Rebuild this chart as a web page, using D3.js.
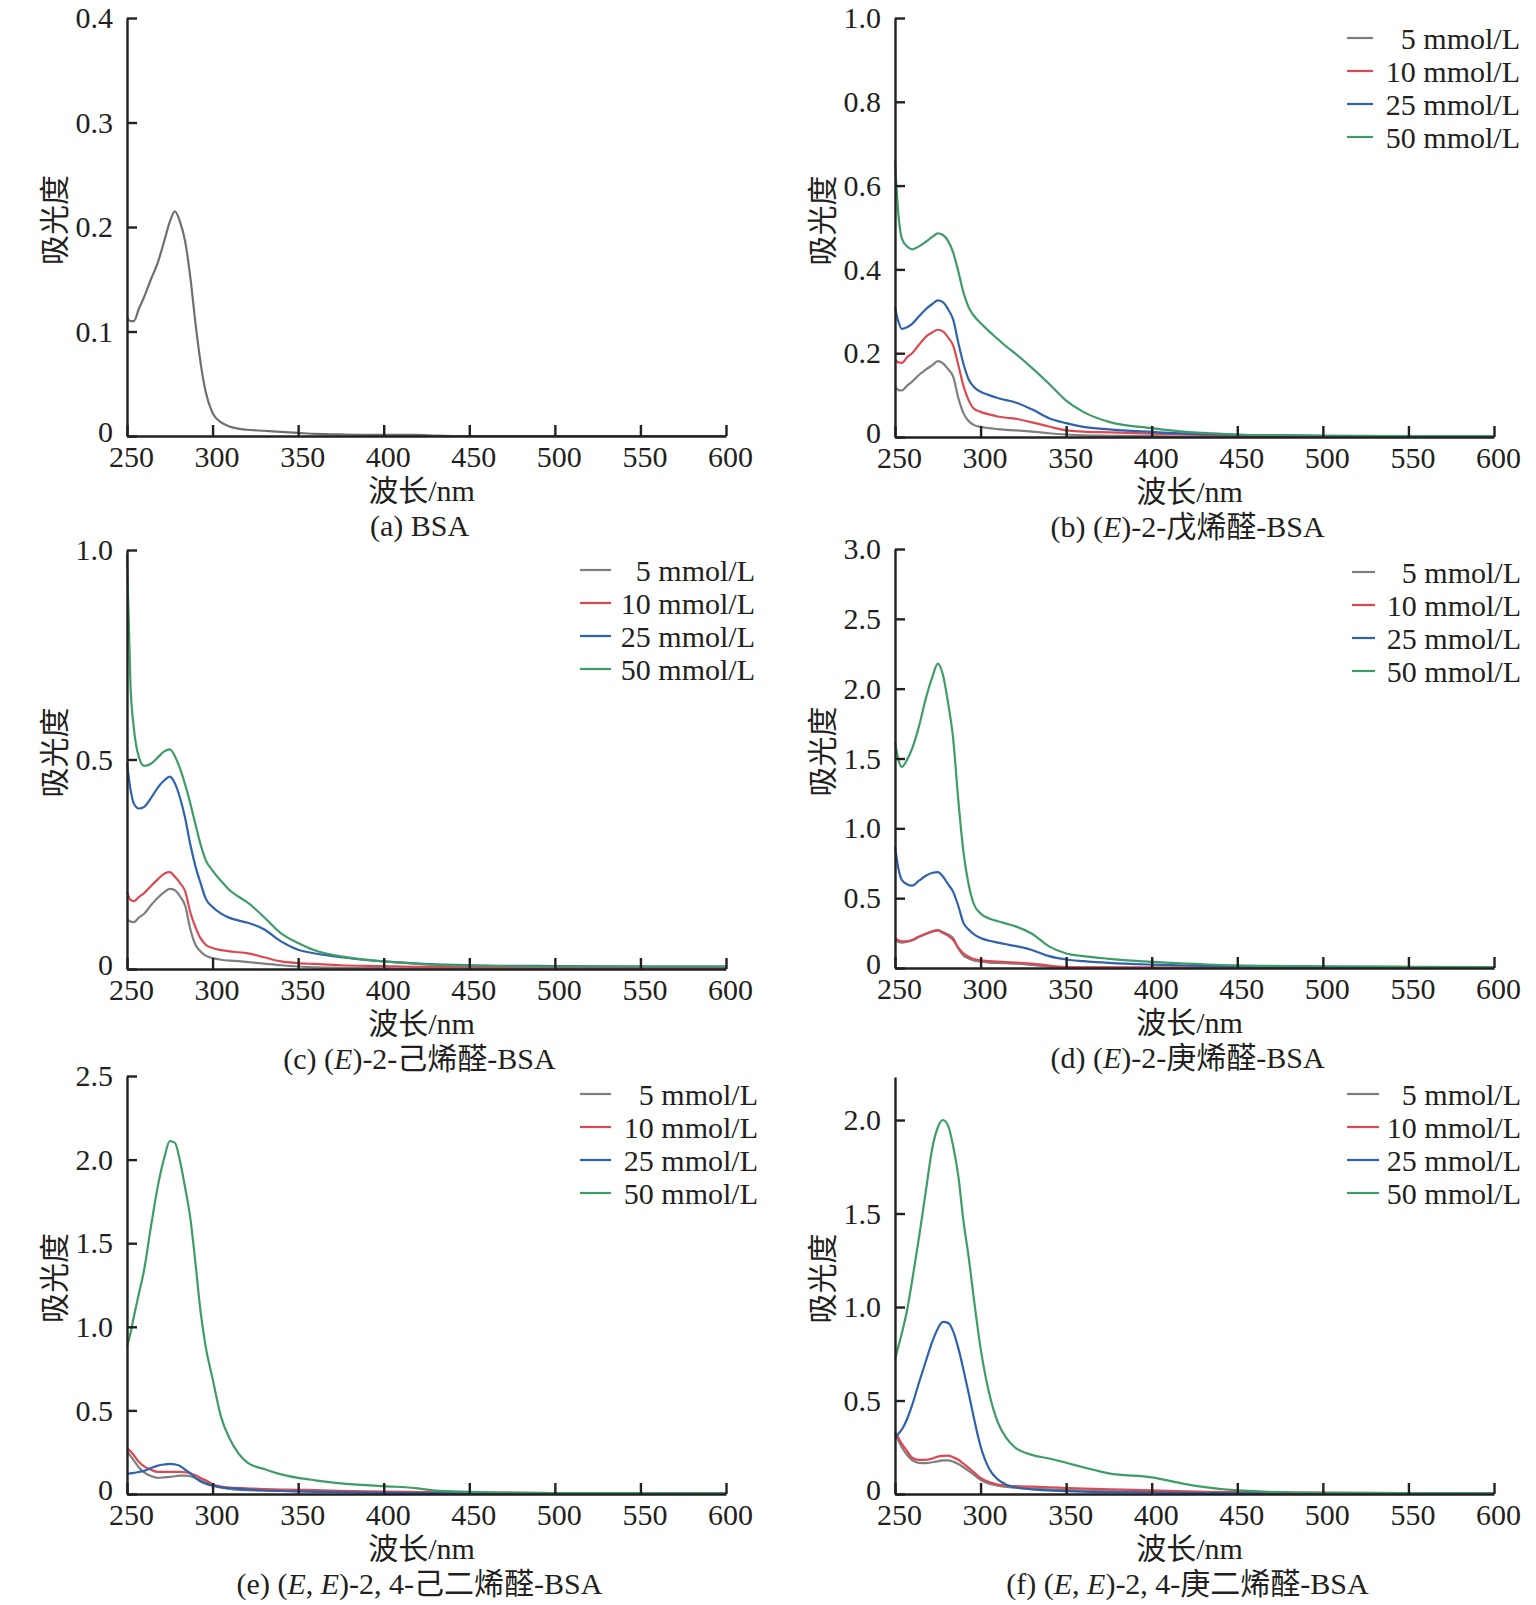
<!DOCTYPE html>
<html>
<head>
<meta charset="utf-8">
<script src="https://cdn.jsdelivr.net/npm/d3@7"></script>
<style>
body { margin: 0; background: #fff; }
svg text { font-family: "Liberation Serif", "Times New Roman", "Noto Sans CJK SC", serif; fill: #231f20; white-space: pre; }
</style>
</head>
<body>
<svg width="1536" height="1605"></svg>
<script>
// wavelength grid (nm), shared by every curve
var wl = [250, 252, 254, 257, 260, 264, 268, 272, 275, 278, 281, 284, 287, 290, 293, 296, 300,
          305, 310, 315, 320, 330, 340, 350, 360, 375, 400, 420, 430, 450, 500, 550, 600];

var xTicks = [250, 300, 350, 400, 450, 500, 550, 600];
var seriesNames = ["5 mmol/L", "10 mmol/L", "25 mmol/L", "50 mmol/L"];
var seriesColors = ["#7f7f7f", "#db4a52", "#2f62ad", "#3d9c68"];

// (a) BSA
var aBSA = [0.113, 0.110, 0.110, 0.122, 0.133, 0.150, 0.166, 0.188, 0.205, 0.215, 0.205, 0.186, 0.152, 0.108, 0.070, 0.042, 0.022,
            0.013, 0.009, 0.007, 0.006, 0.005, 0.004, 0.003, 0.002, 0.0015, 0.001, 0.001, 0.0005, 0, 0, 0, 0];
var aTicks = [0, 0.1, 0.2, 0.3, 0.4];

// (b) (E)-2-戊烯醛-BSA
var b5  = [0.120, 0.112, 0.111, 0.122, 0.132, 0.148, 0.161, 0.172, 0.181, 0.176, 0.162, 0.144, 0.093, 0.057, 0.038, 0.029, 0.024,
           0.021, 0.019, 0.017, 0.016, 0.013, 0.009, 0.006, 0.004, 0.003, 0.002, 0.001, 0.001, 0.001, 0, 0, 0];
var b10 = [0.185, 0.178, 0.177, 0.190, 0.200, 0.220, 0.239, 0.250, 0.256, 0.252, 0.238, 0.218, 0.172, 0.122, 0.088, 0.068, 0.060,
           0.054, 0.049, 0.046, 0.044, 0.035, 0.025, 0.016, 0.013, 0.011, 0.008, 0.006, 0.005, 0.004, 0.002, 0.001, 0.001];
var b25 = [0.309, 0.275, 0.258, 0.262, 0.270, 0.288, 0.305, 0.318, 0.326, 0.322, 0.305, 0.280, 0.225, 0.175, 0.138, 0.120, 0.108,
           0.100, 0.093, 0.088, 0.083, 0.066, 0.045, 0.033, 0.024, 0.018, 0.012, 0.008, 0.007, 0.005, 0.003, 0.002, 0.001];
var b50 = [0.660, 0.530, 0.474, 0.455, 0.448, 0.455, 0.466, 0.478, 0.486, 0.482, 0.468, 0.440, 0.395, 0.345, 0.310, 0.290, 0.272,
           0.252, 0.234, 0.216, 0.200, 0.165, 0.127, 0.087, 0.060, 0.036, 0.021, 0.012, 0.010, 0.006, 0.003, 0.002, 0.002];
var bTicks = [0, 0.2, 0.4, 0.6, 0.8, 1.0];

// (c) (E)-2-己烯醛-BSA
var c5  = [0.119, 0.113, 0.112, 0.123, 0.132, 0.152, 0.170, 0.184, 0.191, 0.188, 0.173, 0.151, 0.095, 0.058, 0.042, 0.032, 0.026,
           0.022, 0.020, 0.019, 0.017, 0.013, 0.009, 0.006, 0.004, 0.003, 0.002, 0.001, 0.001, 0.001, 0, 0, 0];
var c10 = [0.184, 0.165, 0.162, 0.172, 0.181, 0.198, 0.214, 0.228, 0.231, 0.220, 0.205, 0.185, 0.135, 0.100, 0.073, 0.058, 0.050,
           0.045, 0.042, 0.040, 0.038, 0.028, 0.018, 0.014, 0.012, 0.009, 0.007, 0.005, 0.005, 0.004, 0.003, 0.002, 0.002];
var c25 = [0.491, 0.430, 0.395, 0.383, 0.387, 0.408, 0.433, 0.451, 0.459, 0.443, 0.408, 0.360, 0.297, 0.245, 0.205, 0.168, 0.148,
           0.132, 0.122, 0.116, 0.111, 0.095, 0.066, 0.046, 0.037, 0.028, 0.018, 0.013, 0.011, 0.009, 0.007, 0.006, 0.006];
var c50 = [0.990, 0.680, 0.575, 0.505, 0.485, 0.490, 0.505, 0.520, 0.524, 0.508, 0.478, 0.440, 0.395, 0.345, 0.297, 0.260, 0.235,
           0.210, 0.188, 0.173, 0.160, 0.124, 0.085, 0.062, 0.044, 0.030, 0.018, 0.012, 0.010, 0.008, 0.006, 0.006, 0.006];
var cTicks = [0, 0.5, 1.0];

// (d) (E)-2-庚烯醛-BSA
var d5  = [0.200, 0.187, 0.182, 0.188, 0.197, 0.222, 0.243, 0.262, 0.274, 0.258, 0.240, 0.214, 0.140, 0.090, 0.068, 0.055, 0.047,
           0.039, 0.036, 0.034, 0.032, 0.022, 0.010, 0.005, 0.004, 0.003, 0.002, 0.002, 0.002, 0.002, 0.002, 0.002, 0.002];
var d10 = [0.214, 0.198, 0.190, 0.193, 0.200, 0.225, 0.245, 0.262, 0.267, 0.250, 0.232, 0.200, 0.145, 0.105, 0.080, 0.064, 0.055,
           0.049, 0.045, 0.042, 0.039, 0.032, 0.017, 0.007, 0.005, 0.004, 0.003, 0.003, 0.002, 0.002, 0.002, 0.002, 0.002];
var d25 = [0.870, 0.710, 0.630, 0.600, 0.590, 0.625, 0.660, 0.682, 0.687, 0.655, 0.600, 0.545, 0.444, 0.323, 0.275, 0.242, 0.214,
           0.195, 0.182, 0.170, 0.158, 0.129, 0.085, 0.061, 0.049, 0.036, 0.024, 0.018, 0.015, 0.012, 0.008, 0.006, 0.005];
var d50 = [1.62, 1.49, 1.44, 1.49, 1.57, 1.73, 1.93, 2.09, 2.18, 2.10, 1.90, 1.64, 1.20, 0.83, 0.60, 0.46, 0.39,
           0.355, 0.335, 0.318, 0.300, 0.245, 0.155, 0.104, 0.085, 0.066, 0.044, 0.032, 0.027, 0.019, 0.012, 0.009, 0.007];
var dTicks = [0, 0.5, 1.0, 1.5, 2.0, 2.5, 3.0];

// (e) (E,E)-2,4-己二烯醛-BSA
var e5  = [0.255, 0.228, 0.200, 0.159, 0.130, 0.108, 0.097, 0.100, 0.102, 0.106, 0.110, 0.110, 0.106, 0.096, 0.082, 0.068, 0.052,
           0.040, 0.030, 0.025, 0.023, 0.021, 0.019, 0.017, 0.015, 0.013, 0.011, 0.009, 0.008, 0.007, 0.006, 0.005, 0.004];
var e10 = [0.276, 0.255, 0.232, 0.191, 0.165, 0.145, 0.132, 0.132, 0.132, 0.132, 0.132, 0.130, 0.123, 0.112, 0.096, 0.082, 0.059,
           0.044, 0.038, 0.036, 0.034, 0.030, 0.027, 0.025, 0.023, 0.019, 0.015, 0.012, 0.011, 0.008, 0.006, 0.005, 0.004];
var e25 = [0.121, 0.123, 0.126, 0.132, 0.138, 0.155, 0.170, 0.177, 0.180, 0.177, 0.168, 0.145, 0.125, 0.096, 0.075, 0.062, 0.050,
           0.040, 0.035, 0.032, 0.028, 0.021, 0.018, 0.015, 0.013, 0.011, 0.008, 0.006, 0.005, 0.004, 0.003, 0.003, 0.003];
var e50 = [0.88, 0.96, 1.06, 1.20, 1.34, 1.60, 1.84, 2.02, 2.11, 2.10, 1.99, 1.83, 1.65, 1.38, 1.09, 0.88, 0.69,
           0.46, 0.33, 0.245, 0.191, 0.149, 0.117, 0.096, 0.082, 0.064, 0.047, 0.034, 0.020, 0.013, 0.006, 0.005, 0.004];
var eTicks = [0, 0.5, 1.0, 1.5, 2.0, 2.5];

// (f) (E,E)-2,4-庚二烯醛-BSA
var f5  = [0.323, 0.285, 0.250, 0.210, 0.181, 0.166, 0.165, 0.170, 0.175, 0.180, 0.180, 0.173, 0.160, 0.143, 0.124, 0.104, 0.076,
           0.055, 0.045, 0.038, 0.034, 0.029, 0.025, 0.021, 0.018, 0.014, 0.011, 0.009, 0.009, 0.008, 0.006, 0.005, 0.004];
var f10 = [0.333, 0.300, 0.268, 0.230, 0.194, 0.182, 0.183, 0.190, 0.200, 0.204, 0.205, 0.196, 0.183, 0.162, 0.140, 0.117, 0.086,
           0.064, 0.051, 0.045, 0.042, 0.039, 0.036, 0.032, 0.029, 0.025, 0.019, 0.014, 0.012, 0.010, 0.006, 0.005, 0.004];
var f25 = [0.295, 0.322, 0.345, 0.400, 0.475, 0.595, 0.710, 0.820, 0.884, 0.920, 0.915, 0.870, 0.780, 0.665, 0.540, 0.410, 0.255,
           0.135, 0.078, 0.050, 0.036, 0.025, 0.019, 0.015, 0.012, 0.010, 0.008, 0.006, 0.005, 0.004, 0.003, 0.003, 0.003];
var f50 = [0.72, 0.79, 0.86, 0.98, 1.14, 1.37, 1.62, 1.86, 1.96, 2.00, 1.97, 1.86, 1.70, 1.46, 1.27, 1.05, 0.78,
           0.54, 0.385, 0.30, 0.250, 0.209, 0.190, 0.167, 0.143, 0.110, 0.089, 0.053, 0.038, 0.019, 0.006, 0.005, 0.004];
var fTicks = [0, 0.5, 1.0, 1.5, 2.0];

svg = d3.select("svg");

var leftX = 127, rightX = 895, plotW = 599;

var panels = [
	{ left: leftX,  top: 18,   bottom: 436,  yMax: 0.4,  ticks: aTicks, series: [aBSA], legend: null,
	  caption: [["(a) BSA", false]] },
	{ left: rightX, top: 18,   bottom: 437,  yMax: 1.0,  ticks: bTicks, series: [b5, b10, b25, b50],
	  legend: { y: 38, x1: 452, x2: 478, tx: 625 },
	  caption: [["(b) (", false], ["E", true], [")-2-戊烯醛-BSA", false]] },
	{ left: leftX,  top: 550,  bottom: 969,  yMax: 1.0,  ticks: cTicks, series: [c5, c10, c25, c50],
	  legend: { y: 570, x1: 453, x2: 484, tx: 628 },
	  caption: [["(c) (", false], ["E", true], [")-2-己烯醛-BSA", false]] },
	{ left: rightX, top: 549,  bottom: 968,  yMax: 3.0,  ticks: dTicks, series: [d5, d10, d25, d50],
	  legend: { y: 572, x1: 457, x2: 480, tx: 626 },
	  caption: [["(d) (", false], ["E", true], [")-2-庚烯醛-BSA", false]] },
	{ left: leftX,  top: 1076, bottom: 1494, yMax: 2.5,  ticks: eTicks, series: [e5, e10, e25, e50],
	  legend: { y: 1094, x1: 453, x2: 484, tx: 631 },
	  caption: [["(e) (", false], ["E", true], [", ", false], ["E", true], [")-2, 4-己二烯醛-BSA", false]] },
	{ left: rightX, top: 1077, bottom: 1494, yMax: 2.23, ticks: fTicks, series: [f5, f10, f25, f50],
	  legend: { y: 1094, x1: 452, x2: 484, tx: 626 },
	  caption: [["(f) (", false], ["E", true], [", ", false], ["E", true], [")-2, 4-庚二烯醛-BSA", false]] }
];

panels.forEach(function(p) { drawPanel(p); });

function fmt(d) {
	return d === 0 ? "0" : d.toFixed(1);
}

function drawPanel(p) {
	var g = svg.append("g");
	var x = d3.scaleLinear().domain([250, 600]).range([p.left, p.left + plotW]);
	var y = d3.scaleLinear().domain([0, p.yMax]).range([p.bottom, p.top]);

	var line = d3.line()
		.x(function(d, i) { return x(wl[i]); })
		.y(function(d) { return y(d); })
		.curve(d3.curveMonotoneX);

	p.series.forEach(function(vals, i) {
		g.append("path")
			.attr("d", line(vals))
			.attr("fill", "none")
			.attr("stroke", p.series.length == 1 ? "#6f6f6f" : seriesColors[i])
			.attr("stroke-width", 2.2)
			.attr("stroke-linejoin", "round");
	});

	var ax = g.append("g")
		.attr("transform", "translate(0," + p.bottom + ")")
		.call(d3.axisBottom(x).tickValues(xTicks).tickFormat(d3.format("d"))
			.tickSizeInner(-11).tickSizeOuter(0).tickPadding(10));
	ax.selectAll("text").attr("font-size", 30).attr("dx", 4);

	var ay = g.append("g")
		.attr("transform", "translate(" + p.left + ",0)")
		.call(d3.axisLeft(y).tickValues(p.ticks).tickFormat(fmt)
			.tickSizeInner(-10).tickSizeOuter(0).tickPadding(14));
	ay.selectAll("text").attr("font-size", 30)
		.attr("y", function(d) { return d === 0 ? -4 : 0; });

	g.selectAll(".domain, .tick line").attr("stroke", "#231f20").attr("stroke-width", 2.4);
	g.selectAll(".tick text").attr("fill", "#231f20").attr("font-family", null);

	var cx = p.left + plotW / 2;

	g.append("text")
		.attr("transform", "translate(" + (p.left - 73) + "," + ((p.top + p.bottom) / 2 - 7) + ") rotate(-90)")
		.attr("text-anchor", "middle")
		.attr("dominant-baseline", "central")
		.attr("font-size", 30)
		.text("吸光度");

	g.append("text")
		.attr("x", cx - 5).attr("y", p.bottom + 65)
		.attr("text-anchor", "middle")
		.attr("font-size", 30)
		.text("波长/nm");

	var cap = g.append("text")
		.attr("x", cx - 7).attr("y", p.bottom + 100)
		.attr("text-anchor", "middle")
		.attr("font-size", 30);
	p.caption.forEach(function(part) {
		cap.append("tspan")
			.attr("font-style", part[1] ? "italic" : "normal")
			.text(part[0]);
	});

	if (p.legend) {
		var lg = g.append("g");
		seriesNames.forEach(function(name, i) {
			var ry = p.legend.y + i * 33;
			lg.append("line")
				.attr("x1", p.left + p.legend.x1).attr("x2", p.left + p.legend.x2)
				.attr("y1", ry).attr("y2", ry)
				.attr("stroke", seriesColors[i])
				.attr("stroke-width", 2.2);
			lg.append("text")
				.attr("x", p.left + p.legend.tx).attr("y", ry)
				.attr("text-anchor", "end")
				.attr("dominant-baseline", "central")
				.attr("font-size", 30)
				.text(name);
		});
	}
}
</script>
</body>
</html>
